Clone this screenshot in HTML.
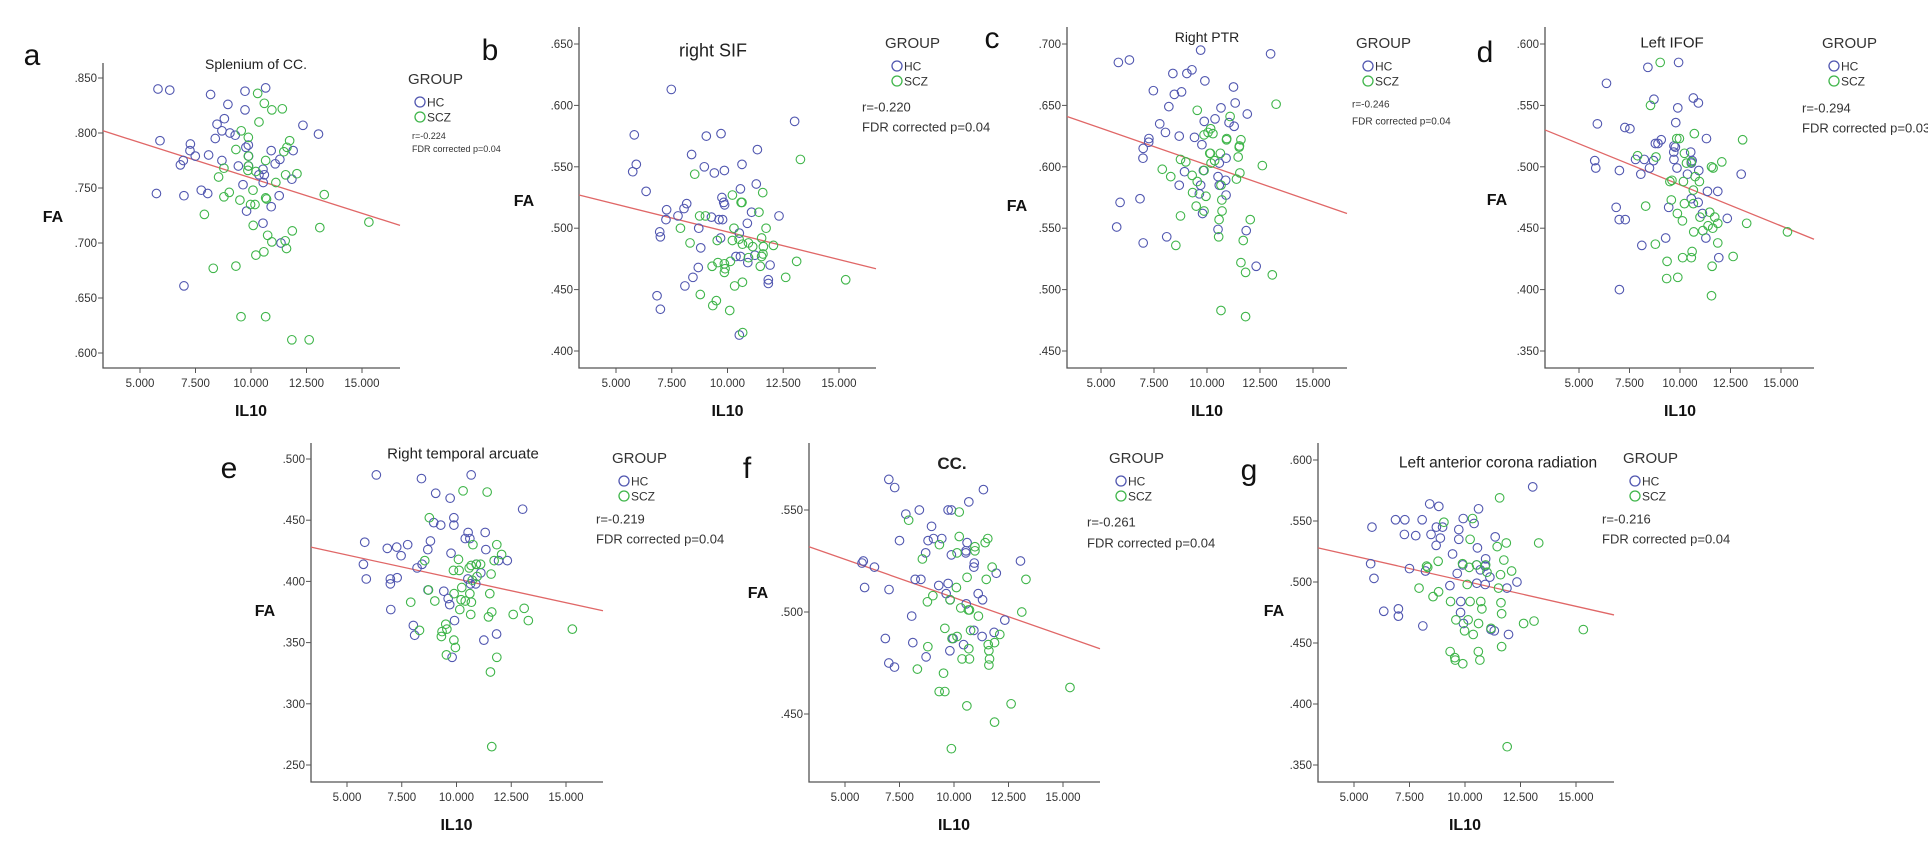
<!DOCTYPE html>
<html><head><meta charset="utf-8"><title>FA vs IL10 scatter panels</title>
<style>
html,body{margin:0;padding:0;background:#fff;}
svg{display:block;font-family:"Liberation Sans",Arial,sans-serif;}
</style></head>
<body>
<svg id="fig" width="1928" height="850" viewBox="0 0 1928 850" xmlns="http://www.w3.org/2000/svg"></svg>
<script>
const xTicks = [5, 7.5, 10, 12.5, 15];
const xTickLabels = ["5.000", "7.500", "10.000", "12.500", "15.000"];

// Panel a: Splenium of CC.
const aHcIl10 = [5.81,6.34,8.18,8.96,9.73,10.66,9.73,8.80,8.47,8.69,9.05,9.29,8.39,5.90,7.27,7.25,7.49,8.09,8.69,6.95,6.82,9.43,9.88,9.77,9.89,9.89,10.54,10.60,10.36,10.55,9.64,10.91,11.09,11.30,11.90,11.84,12.34,13.04,5.74,6.98,7.76,8.05,11.27,10.91,9.80,10.54,11.35,6.98];
const aHcFa = [.840,.839,.835,.826,.838,.841,.821,.813,.808,.802,.800,.798,.795,.793,.790,.784,.779,.780,.775,.775,.771,.770,.789,.787,.779,.770,.767,.762,.762,.755,.753,.784,.772,.776,.784,.758,.807,.799,.745,.743,.748,.745,.743,.733,.729,.718,.700,.661];
const aSczIl10 = [10.30,10.60,10.94,11.41,10.36,9.56,9.88,11.74,11.62,11.48,9.32,9.88,9.88,9.86,10.66,8.78,8.54,10.22,11.56,12.07,11.12,10.09,9.02,8.78,9.50,9.98,10.18,10.66,10.70,7.90,10.10,10.75,10.94,11.54,11.60,11.86,13.10,13.30,15.31,10.22,10.58,8.30,9.32,9.55,10.66,11.84,12.62];
const aSczFa = [.836,.827,.821,.822,.810,.802,.796,.793,.787,.783,.785,.779,.770,.766,.775,.768,.760,.765,.762,.763,.755,.748,.746,.742,.739,.735,.735,.741,.740,.726,.716,.707,.701,.702,.695,.711,.714,.744,.719,.689,.692,.677,.679,.633,.633,.612,.612];
const aLineFa = [.802, .716];

// Panel b: right SIF
const bHcIl10 = [7.48,13.01,5.82,9.05,9.71,11.34,8.39,5.91,5.75,8.96,9.41,9.86,10.65,6.35,11.29,10.58,9.75,9.83,9.87,8.17,8.05,7.27,7.24,7.78,11.08,12.31,10.89,9.28,9.62,9.78,8.71,6.96,6.99,10.53,9.69,8.80,10.38,10.58,10.91,11.23,11.91,11.83,11.83,8.69,8.45,8.09,6.84,6.99,10.53];
const bHcFa = [.613,.587,.576,.575,.577,.564,.560,.552,.546,.550,.545,.547,.552,.530,.536,.532,.525,.521,.519,.520,.516,.515,.507,.510,.513,.510,.504,.509,.507,.507,.500,.497,.493,.496,.492,.484,.477,.477,.472,.478,.470,.458,.455,.468,.460,.453,.445,.434,.413];
const bSczIl10 = [13.27,8.53,10.22,11.58,10.61,10.65,11.41,8.75,9.01,7.89,10.29,11.73,8.32,9.54,10.22,10.67,10.94,11.13,11.53,11.61,12.06,11.53,11.59,13.10,9.57,9.31,9.86,9.89,9.86,10.13,11.47,12.61,10.32,10.67,8.78,9.34,9.50,10.10,10.68,15.30,10.52,10.94];
const bSczFa = [.556,.544,.527,.529,.521,.521,.513,.510,.510,.500,.500,.500,.488,.490,.490,.487,.488,.485,.492,.485,.486,.477,.479,.473,.472,.469,.471,.467,.464,.473,.469,.460,.453,.456,.446,.437,.441,.433,.415,.458,.491,.476];
const bLineFa = [.527, .467];

// Panel c: Right PTR
const cHcIl10 = [9.70,5.82,6.34,13.00,8.39,9.05,9.29,9.90,7.47,8.46,8.80,11.25,11.33,10.66,8.20,11.90,9.87,10.38,7.77,8.04,8.69,9.41,11.04,11.28,7.26,7.25,6.99,6.98,9.76,10.58,10.90,8.94,9.83,8.69,9.70,9.64,10.52,10.58,10.88,10.90,6.84,5.90,5.74,6.99,8.10,10.52,11.85,12.32,9.79];
const cHcFa = [.695,.685,.687,.692,.676,.676,.679,.670,.662,.659,.661,.665,.652,.648,.649,.643,.637,.639,.635,.628,.625,.624,.636,.633,.623,.620,.615,.607,.618,.603,.607,.596,.597,.585,.585,.578,.592,.585,.589,.577,.574,.571,.551,.538,.543,.549,.548,.519,.562];
const cSczIl10 = [9.54,13.26,11.09,10.17,10.05,10.28,9.86,10.93,10.92,11.60,11.53,11.52,10.13,10.16,10.63,11.47,10.36,10.19,8.75,9.00,7.89,8.29,9.30,9.86,12.61,11.55,11.39,9.54,10.66,9.32,9.95,10.70,10.71,9.49,9.86,8.75,10.57,10.55,12.04,11.71,8.53,11.60,11.82,13.08,10.66,11.82];
const cSczFa = [.646,.651,.641,.631,.628,.627,.626,.623,.622,.622,.617,.616,.611,.611,.611,.608,.605,.603,.606,.604,.598,.592,.593,.597,.601,.595,.590,.588,.585,.579,.576,.573,.564,.568,.564,.560,.557,.543,.557,.540,.536,.522,.514,.512,.483,.478];
const cLineFa = [.641, .562];

// Panel d: Left IFOF
const dHcIl10 = [8.41,9.93,6.36,8.71,10.66,10.91,9.89,5.91,9.79,7.27,7.52,11.31,9.07,8.78,8.91,9.70,9.77,9.69,10.53,5.78,5.83,7.00,7.80,8.23,8.49,8.06,8.69,10.60,10.56,10.93,9.85,9.70,13.03,11.36,11.87,6.84,6.99,7.29,9.44,10.56,10.90,11.11,12.34,8.11,9.29,11.28,11.92,7.00,10.37];
const dHcFa = [.581,.585,.568,.555,.556,.552,.548,.535,.536,.532,.531,.523,.522,.519,.519,.517,.516,.512,.512,.505,.499,.497,.506,.506,.499,.494,.505,.505,.503,.497,.499,.506,.494,.480,.480,.467,.457,.457,.467,.474,.471,.462,.458,.436,.442,.442,.426,.400,.494];
const dSczIl10 = [9.02,8.54,9.84,9.97,10.71,13.10,10.22,10.32,10.56,11.56,11.64,12.07,7.90,8.81,10.75,10.96,9.50,9.60,10.17,10.66,10.22,10.66,9.57,8.30,9.87,10.12,10.99,11.47,11.72,11.87,11.39,11.62,11.13,10.68,13.30,15.32,11.87,8.78,10.60,10.56,10.13,9.36,12.63,11.59,9.34,9.89,11.56];
const dSczFa = [.585,.550,.523,.523,.527,.522,.511,.503,.504,.500,.499,.504,.509,.508,.492,.488,.488,.489,.488,.481,.470,.470,.473,.468,.462,.456,.459,.463,.459,.454,.452,.450,.448,.447,.454,.447,.438,.437,.431,.426,.426,.423,.427,.419,.409,.410,.395];
const dLineFa = [.530, .441];

// Panel e: Right temporal arcuate
const eHcIl10 = [6.34,8.40,10.67,9.05,9.71,9.88,9.88,8.96,9.28,13.02,10.53,10.40,10.61,11.31,5.81,6.84,7.27,7.77,7.47,8.81,8.69,9.75,11.34,11.92,12.32,5.75,8.20,8.43,6.98,7.29,5.88,6.98,10.52,11.11,10.90,10.64,10.88,8.70,9.42,9.62,9.69,7.00,9.91,8.03,8.09,11.25,11.83,9.80];
const eHcFa = [.487,.484,.487,.472,.468,.452,.446,.448,.446,.459,.440,.435,.435,.440,.432,.427,.428,.430,.421,.433,.426,.423,.426,.417,.417,.414,.411,.414,.402,.403,.402,.398,.402,.407,.414,.398,.398,.393,.392,.386,.381,.377,.368,.364,.356,.352,.357,.338];
const eSczIl10 = [10.30,11.40,8.76,10.75,11.84,10.09,8.55,11.72,12.06,10.67,10.58,11.10,10.91,9.86,10.12,11.58,10.94,10.72,10.24,11.52,9.89,10.61,10.21,10.40,10.68,9.01,7.91,10.15,11.61,11.46,10.65,12.59,13.09,13.28,9.51,9.56,9.34,9.31,8.31,9.88,9.95,9.54,15.29,11.84,11.55,11.61,8.72];
const eSczFa = [.474,.473,.452,.430,.430,.418,.417,.417,.422,.413,.411,.414,.414,.409,.409,.406,.404,.401,.395,.390,.390,.390,.385,.384,.383,.384,.383,.377,.375,.371,.373,.373,.378,.368,.365,.361,.359,.355,.360,.352,.346,.340,.361,.338,.326,.265,.393];
const eLineFa = [.428, .376];

// Panel f: CC.
const fHcIl10 = [7.01,7.28,11.35,10.68,7.79,8.41,9.73,9.88,8.97,9.06,9.44,8.81,7.50,10.60,10.55,10.54,9.88,8.70,5.84,5.78,6.35,10.93,10.91,11.94,13.05,8.22,8.48,9.30,9.73,5.90,7.02,9.64,9.82,11.11,11.31,10.56,8.06,12.33,11.84,10.91,11.29,10.44,9.96,6.85,8.11,9.81,8.72,7.01,7.27];
const fHcFa = [.565,.561,.560,.554,.548,.550,.550,.550,.542,.536,.536,.535,.535,.534,.530,.529,.528,.529,.525,.524,.522,.524,.522,.519,.525,.516,.516,.513,.514,.512,.511,.509,.506,.509,.506,.504,.498,.496,.490,.491,.488,.484,.487,.487,.485,.481,.478,.475,.473];
const fSczIl10 = [10.24,7.92,10.24,11.55,11.43,9.33,10.96,10.96,10.14,8.55,11.75,10.11,10.60,11.48,13.30,13.11,8.78,9.03,9.82,10.31,10.66,10.71,11.12,9.58,10.76,12.10,10.14,9.91,8.80,10.68,11.57,11.86,11.60,10.37,10.71,11.63,11.60,8.32,9.52,9.32,9.58,10.59,12.62,11.86,9.88,15.32];
const fSczFa = [.549,.545,.537,.536,.534,.533,.532,.530,.529,.526,.522,.512,.517,.516,.516,.500,.505,.508,.506,.502,.501,.501,.498,.492,.491,.489,.488,.487,.483,.482,.484,.485,.481,.477,.477,.477,.474,.472,.470,.461,.461,.454,.455,.446,.433,.463];
const fLineFa = [.532, .482];

// Panel g: Left anterior corona radiation
const gHcIl10 = [13.05,8.41,8.82,10.61,6.87,7.29,8.07,9.92,10.41,5.81,8.71,8.99,9.72,7.27,7.78,8.47,8.89,9.72,11.36,8.70,10.56,9.44,10.93,9.90,10.53,10.91,10.69,11.12,5.75,7.50,8.22,9.65,5.90,12.34,10.53,10.91,11.89,9.32,9.81,9.80,9.93,7.00,7.00,6.34,8.10,11.17,11.32,11.96];
const gHcFa = [.578,.564,.562,.560,.551,.551,.551,.552,.548,.545,.545,.545,.543,.539,.538,.539,.536,.535,.537,.530,.528,.523,.519,.514,.514,.513,.510,.504,.515,.511,.509,.507,.503,.500,.499,.498,.495,.497,.484,.475,.466,.478,.472,.476,.464,.461,.460,.457];
const gSczIl10 = [11.56,9.05,10.34,10.23,13.32,11.86,11.45,8.79,11.75,8.32,9.89,10.19,10.52,10.93,10.99,11.60,12.10,10.10,11.51,7.93,8.56,8.81,9.35,10.23,10.71,11.62,10.76,11.65,10.14,9.59,10.61,12.64,13.11,9.98,10.37,11.17,15.33,10.60,11.65,9.33,9.54,9.56,9.90,10.67,11.90,8.27];
const gSczFa = [.569,.549,.552,.535,.532,.532,.529,.517,.518,.512,.515,.512,.514,.514,.508,.506,.509,.498,.495,.495,.488,.492,.484,.484,.484,.483,.478,.474,.469,.469,.466,.466,.468,.460,.457,.462,.461,.443,.447,.443,.438,.436,.433,.436,.365,.513];
const gLineFa = [.528, .473];

const yTicksA = [.600,.650,.700,.750,.800,.850];
const yTicksB = [.400,.450,.500,.550,.600,.650];
const yTicksC = [.450,.500,.550,.600,.650,.700];
const yTicksD = [.350,.400,.450,.500,.550,.600];
const yTicksE = [.250,.300,.350,.400,.450,.500];
const yTicksF = [.450,.500,.550];
const yTicksG = [.350,.400,.450,.500,.550,.600];

const NS = "http://www.w3.org/2000/svg";
const svg = document.getElementById("fig");
const HC = "#5157b0", SCZ = "#3fb54a";

function mk(tag, attrs, parent) {
  const e = document.createElementNS(NS, tag);
  for (const k in attrs) e.setAttribute(k, attrs[k]);
  (parent || svg).appendChild(e);
  return e;
}
function txt(s, attrs, parent) { const t = mk("text", attrs, parent); t.textContent = s; return t; }

function drawPanel(p) {
  const g = mk("g", {});
  
  
  const xs = v => p.x5 + (v - 5) * (p.x15 - p.x5) / 10;
  const ys = v => p.yA + (v - p.vA) * (p.yB - p.yA) / (p.vB - p.vA);
  const xinv = px => 5 + (px - p.x5) * 10 / (p.x15 - p.x5);

  // axes
  const ax = mk("path", {d: `M${p.ax} ${p.top} V${p.bot} H${p.right}`, stroke: "#555", "stroke-width": 1.3, fill: "none"}, g);
  
  
  // x ticks
  xTicks.forEach((t, i) => {
    const x = xs(t);
    mk("line", {x1: x, x2: x, y1: p.bot, y2: p.bot + 5, stroke: "#555", "stroke-width": 1}, g);
    const lb = txt(xTickLabels[i], {x: x, y: p.bot + 19, "font-size": 11.5, fill: "#333", "text-anchor": "middle"}, g);
    
    
  });
  // y ticks
  p.yTicks.forEach(t => {
    const y = ys(t);
    mk("line", {x1: p.ax - 5, x2: p.ax, y1: y, y2: y, stroke: "#555", "stroke-width": 1}, g);
    const lb = txt(t.toFixed(3).replace(/^0/, ""), {x: p.ax - 6, y: y + 4, "font-size": 11.5, fill: "#333", "text-anchor": "end"}, g);
    
    
  });
  // fit line
  const lx1 = xinv(p.ax), lx2 = xinv(p.right);
  const fl = mk("line", {x1: xs(lx1), x2: xs(lx2), y1: ys(p.line[0]), y2: ys(p.line[1]), stroke: "#e06767", "stroke-width": 1.3}, g);
  
  
  // points
  const drawPts = (X, Y, col, nm) => {
    X.forEach((v, i) => {
      const c = mk("circle", {cx: xs(v), cy: ys(Y[i]), r: 4.3, fill: "none", stroke: col, "stroke-width": 1.1}, g);
      
      
    });
  };
  drawPts(p.hcX, p.hcY, HC, 'hc-point');
  drawPts(p.sczX, p.sczY, SCZ, 'scz-point');
  // labels
  const L = txt(p.letter, {x: p.lx, y: p.ly + 10, "font-size": 30, fill: "#111", "text-anchor": "middle"}, g);
  
  
  const T = txt(p.title, {x: p.tx, y: p.ty + p.tfs * 0.36, "font-size": p.tfs, fill: "#222", "text-anchor": "middle", "font-weight": p.tbold ? "bold" : "normal"}, g);
  
  
  const FA = txt("FA", {x: p.fax, y: p.fay + 6, "font-size": 16, "font-weight": "bold", fill: "#111", "text-anchor": "middle"}, g);
  
  
  const IL = txt("IL10", {x: xs(10), y: p.bot + 48, "font-size": 16, "font-weight": "bold", fill: "#111", "text-anchor": "middle"}, g);
  
  
  // legend
  const lg = mk("g", {}, g);
  
  
  txt("GROUP", {x: p.gx, y: p.gy + 6, "font-size": 15, fill: "#333"}, lg);
  const e1 = mk("circle", {cx: p.gx + 12, cy: p.gy + 24, r: 5, fill: "none", stroke: HC, "stroke-width": 1.3}, lg);
  
  
  txt("HC", {x: p.gx + 19, y: p.gy + 28.5, "font-size": 12, fill: "#333"}, lg);
  const e2 = mk("circle", {cx: p.gx + 12, cy: p.gy + 39, r: 5, fill: "none", stroke: SCZ, "stroke-width": 1.3}, lg);
  
  
  txt("SCZ", {x: p.gx + 19, y: p.gy + 43.5, "font-size": 12, fill: "#333"}, lg);
  const r = txt(p.r, {x: p.rx, y: p.ry + p.sfs * 0.36, "font-size": p.sfs, fill: "#333"}, g);
  
  
  const f = txt(p.fdr, {x: p.rx, y: p.fy + p.sfs * 0.36, "font-size": p.sfs, fill: "#333"}, g);
  
  
}

const panels = [
 {id:"a", ax:103, top:63, bot:368, right:400, x5:140, x15:362, yA:78, vA:.850, yB:353, vB:.600, yTicks:yTicksA,
  hcX:aHcIl10, hcY:aHcFa, sczX:aSczIl10, sczY:aSczFa, line:aLineFa, letter:"a", lx:32, ly:55,
  title:"Splenium of CC.", tx:256, ty:64, tfs:14, fax:53, fay:216, gx:408, gy:78, r:"r=-0.224", fdr:"FDR corrected p=0.04", rx:412, ry:136, fy:149, sfs:9},
 {id:"b", ax:579, top:27, bot:368, right:876, x5:616, x15:839, yA:44, vA:.650, yB:351, vB:.400, yTicks:yTicksB,
  hcX:bHcIl10, hcY:bHcFa, sczX:bSczIl10, sczY:bSczFa, line:bLineFa, letter:"b", lx:490, ly:50,
  title:"right SIF", tx:713, ty:50, tfs:18, fax:524, fay:200, gx:885, gy:42, r:"r=-0.220", fdr:"FDR corrected p=0.04", rx:862, ry:107, fy:127, sfs:13},
 {id:"c", ax:1067, top:27, bot:368, right:1347, x5:1101, x15:1313, yA:44, vA:.700, yB:351, vB:.450, yTicks:yTicksC,
  hcX:cHcIl10, hcY:cHcFa, sczX:cSczIl10, sczY:cSczFa, line:cLineFa, letter:"c", lx:992, ly:38,
  title:"Right PTR", tx:1207, ty:37, tfs:14, fax:1017, fay:205, gx:1356, gy:42, r:"r=-0.246", fdr:"FDR corrected p=0.04", rx:1352, ry:104, fy:121, sfs:10},
 {id:"d", ax:1545, top:27, bot:368, right:1814, x5:1579, x15:1781, yA:44, vA:.600, yB:351, vB:.350, yTicks:yTicksD,
  hcX:dHcIl10, hcY:dHcFa, sczX:dSczIl10, sczY:dSczFa, line:dLineFa, letter:"d", lx:1485, ly:52,
  title:"Left IFOF", tx:1672, ty:42, tfs:15, fax:1497, fay:199, gx:1822, gy:42, r:"r=-0.294", fdr:"FDR corrected p=0.03", rx:1802, ry:108, fy:128, sfs:13},
 {id:"e", ax:311, top:443, bot:782, right:603, x5:347, x15:566, yA:459, vA:.500, yB:765, vB:.250, yTicks:yTicksE,
  hcX:eHcIl10, hcY:eHcFa, sczX:eSczIl10, sczY:eSczFa, line:eLineFa, letter:"e", lx:229, ly:468,
  title:"Right temporal arcuate", tx:463, ty:453, tfs:15, fax:265, fay:610, gx:612, gy:457, r:"r=-0.219", fdr:"FDR corrected p=0.04", rx:596, ry:519, fy:539, sfs:13},
 {id:"f", ax:809, top:443, bot:782, right:1100, x5:845, x15:1063, yA:510, vA:.550, yB:714, vB:.450, yTicks:yTicksF,
  hcX:fHcIl10, hcY:fHcFa, sczX:fSczIl10, sczY:fSczFa, line:fLineFa, letter:"f", lx:747, ly:468,
  title:"CC.", tx:952, ty:463, tfs:17, tbold:true, fax:758, fay:592, gx:1109, gy:457, r:"r=-0.261", fdr:"FDR corrected p=0.04", rx:1087, ry:522, fy:543, sfs:13},
 {id:"g", ax:1318, top:443, bot:782, right:1614, x5:1354, x15:1576, yA:460, vA:.600, yB:765, vB:.350, yTicks:yTicksG,
  hcX:gHcIl10, hcY:gHcFa, sczX:gSczIl10, sczY:gSczFa, line:gLineFa, letter:"g", lx:1249, ly:470,
  title:"Left anterior corona radiation", tx:1498, ty:462, tfs:15.5, fax:1274, fay:610, gx:1623, gy:457, r:"r=-0.216", fdr:"FDR corrected p=0.04", rx:1602, ry:519, fy:539, sfs:13}
];
panels.forEach(drawPanel);
</script>
</body></html>
